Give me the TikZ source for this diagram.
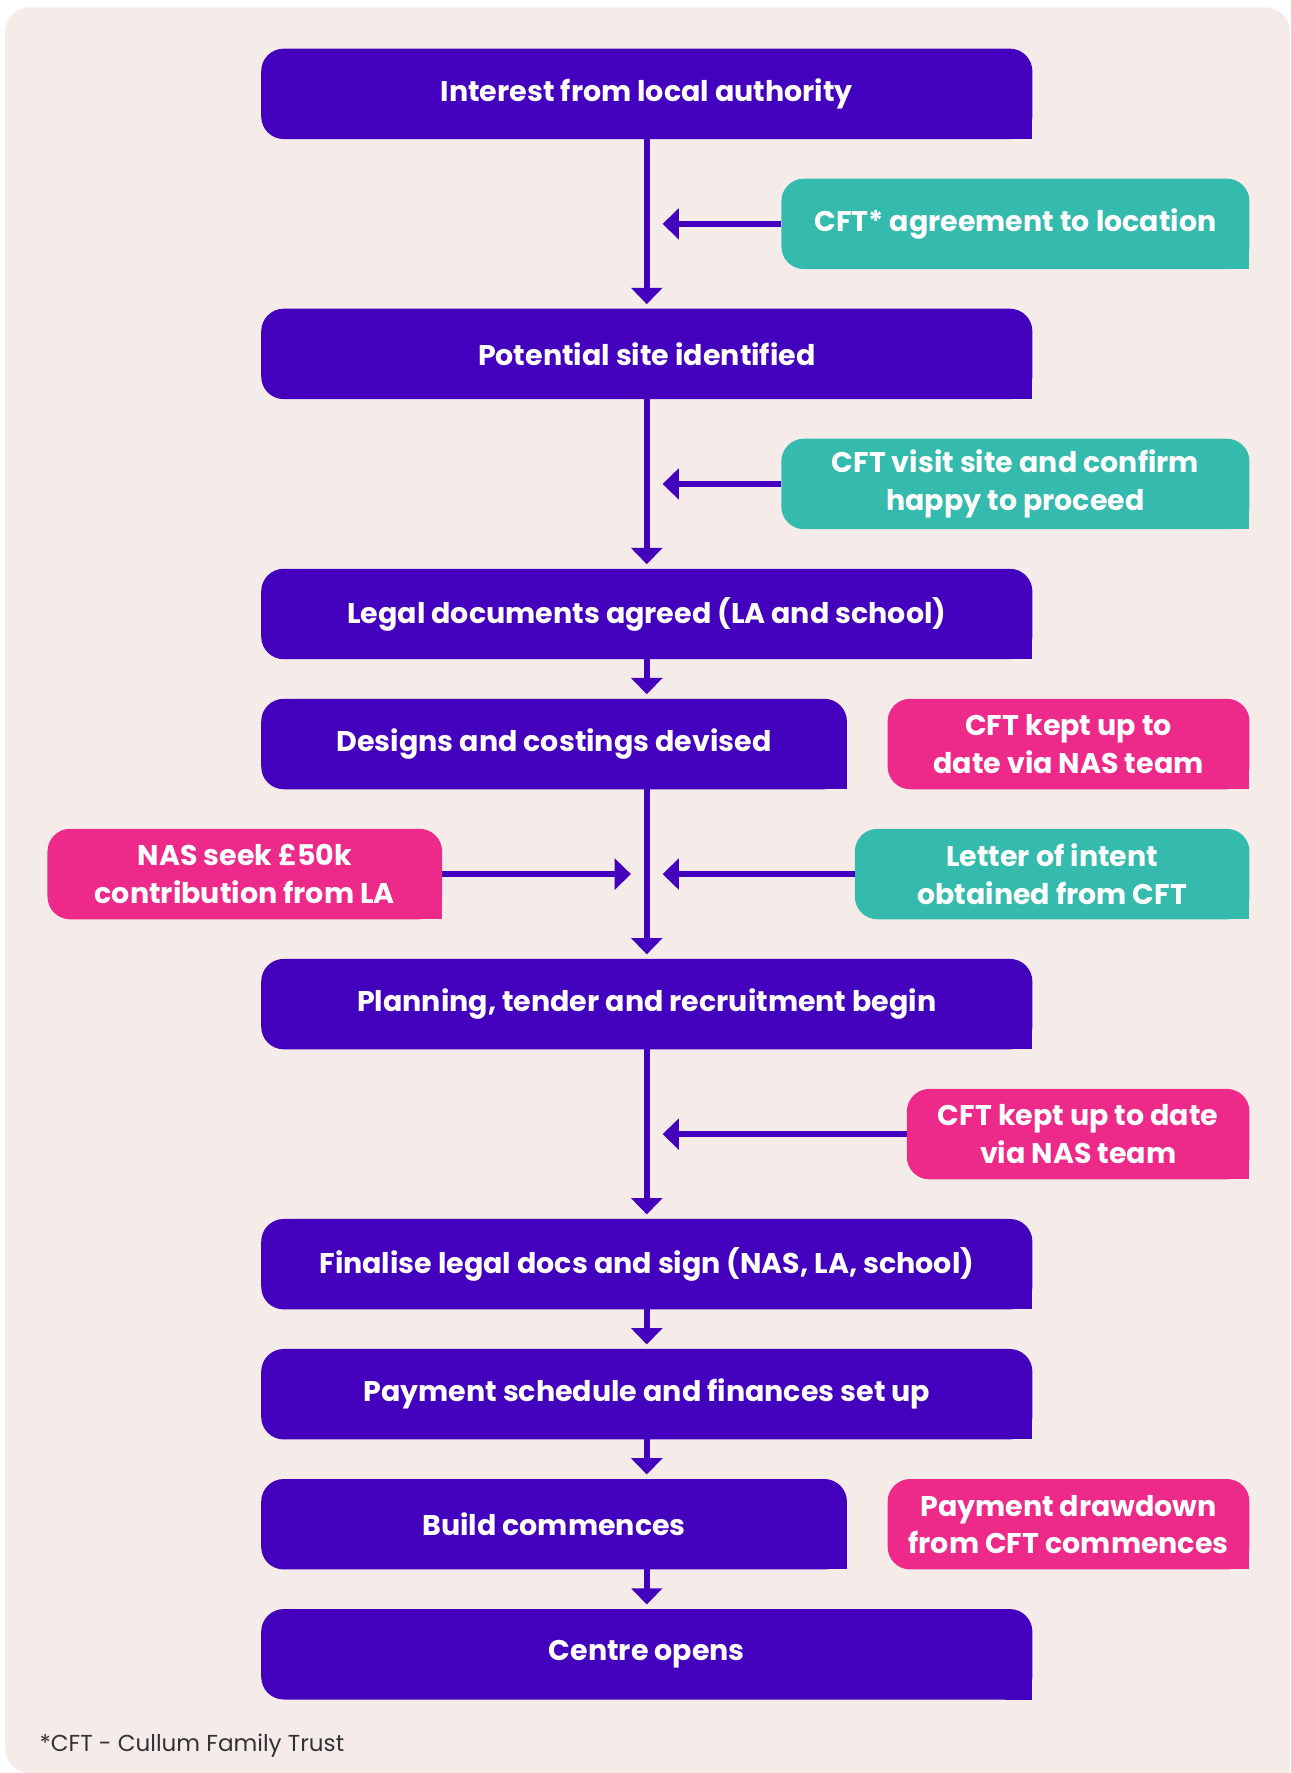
\documentclass[tikz,border=0pt]{standalone}
\usepackage{fontspec}
\setmainfont{Poppins}
\usetikzlibrary{
    arrows.meta,
    backgrounds,
    positioning
}
\definecolor{naspurple}{RGB}{67,0,189}
\definecolor{nasteal}{RGB}{53,187,174}
\definecolor{naspink}{RGB}{237,42,138}
\definecolor{naspaper}{RGB}{245,236,234}
\tikzset{
    % Box styles
    step box/.style={
        fill=naspurple,
        rounded corners=10pt,
        rectangle,
        minimum width=341pt,
        minimum height=40pt,
        inner sep=0pt,
        outer sep=0pt,
        text=white,
        font=\bfseries\fontsize{12.6}{16.5}\selectfont,
        align=center
    },
    narrow box/.style={
        step box,
        minimum width=259pt
    },
    cft box/.style={
        step box,
        fill=nasteal
    },
    nas box/.style={
        step box,
        fill=naspink
    },
    % Arrow styles
    flow arrow/.style={
        -{Triangle[width=13.5pt,length=7.2pt]},
        line width=2.6pt,
        naspurple,
        shorten >=2pt
    },
    side arrow/.style={
        flow arrow,
        shorten >=0pt
    }
}

\begin{document}
\begin{tikzpicture}[x=0.5pt, y=-0.5pt]
    \useasboundingbox (0,0) rectangle (1141,1568);

    % main steps
    \node[step box] (interest) at (572,83) {Interest from local authority};
    \node[step box] (site) at (572,313) {Potential site identified};
    \node[step box] (legal) at (572,543) {Legal documents agreed (LA and school)};
    \node[narrow box] (designs) at (490,658) {Designs and costings devised};
    \node[step box] (planning) at (572,888) {Planning, tender and recruitment begin};
    \node[step box] (finalise) at (572,1118) {Finalise legal docs and sign (NAS, LA, school)};
    \node[step box] (payment) at (572,1233) {Payment schedule and finances set up};
    \node[narrow box] (build) at (490,1348) {Build commences};
    \node[step box] (opens) at (572,1463) {Centre opens};

    % side notes
    \node[cft box, minimum width=207pt] (cftloc) at (898,198) {CFT* agreement to location};
    \node[cft box, minimum width=207pt] (cftvisit) at (898,428) {CFT visit site and confirm\\happy to proceed};
    \node[nas box, minimum width=160pt] (keptA) at (945,658) {CFT kept up to\\date via NAS team};
    \node[nas box, minimum width=174.5pt] (nasseek) at (216.5,773) {NAS seek £50k\\contribution from LA};
    \node[cft box, minimum width=174.5pt] (letter) at (930.5,773) {Letter of intent\\obtained from CFT};
    \node[nas box, minimum width=151.5pt] (keptB) at (953.5,1003) {CFT kept up to date\\via NAS team};
    \node[nas box, minimum width=160pt] (drawdown) at (945,1348) {Payment drawdown\\from CFT commences};

    % paper and square bottom right corners
    \begin{scope}[on background layer]
        \fill[naspaper, rounded corners=11pt] (4.5,6.5) rectangle (1141,1568);
        \fill[naspaper] (1141,1568) rectangle ++(-15pt,15pt);
        \foreach \n/\c in {interest/naspurple, site/naspurple, legal/naspurple, designs/naspurple,
            planning/naspurple, finalise/naspurple, payment/naspurple, build/naspurple, opens/naspurple,
            cftloc/nasteal, cftvisit/nasteal, letter/nasteal,
            keptA/naspink, nasseek/naspink, keptB/naspink, drawdown/naspink}
            \fill[\c] (\n.south east) rectangle ++(-12pt,12pt);
    \end{scope}

    \coordinate (spine) at (572,0);
    \coordinate (rtip) at (586,0);
    \coordinate (ltip) at (558,0);

    \foreach \a/\b in {interest/site, site/legal, legal/designs, designs/planning,
        planning/finalise, finalise/payment, payment/build, build/opens}
        \draw[flow arrow] (\a.south -| spine) -- (\b.north -| spine);

    \foreach \n in {cftloc, cftvisit, letter, keptB}
        \draw[side arrow] (\n.west) -- (\n.west -| rtip);
    \draw[side arrow] (nasseek.east) -- (nasseek.east -| ltip);

    \node[anchor=west, font=\fontsize{10.2}{12}\selectfont, text=black!80] (note) at (28,1544) {*CFT - Cullum Family Trust};
\end{tikzpicture}
\end{document}
